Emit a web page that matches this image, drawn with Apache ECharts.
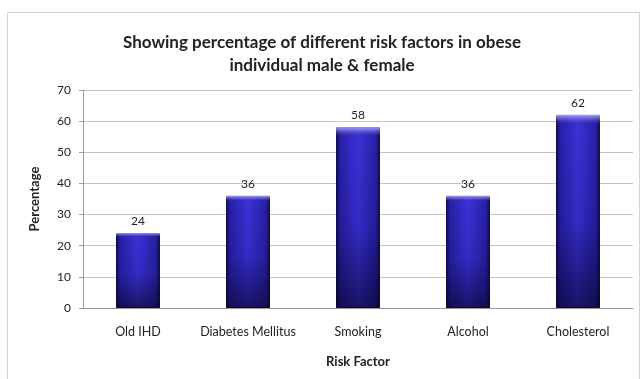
<!DOCTYPE html>
<html>
<head>
<meta charset="utf-8">
<script src="https://cdn.jsdelivr.net/npm/echarts@6/dist/echarts.min.js"></script>
<style>
  html, body { margin: 0; padding: 0; background: #ffffff; }
  #chart { width: 644px; height: 379px; }
</style>
</head>
<body>
<div id="chart"></div>
<script>
// Risk factors and their percentages
const categories = ['Old IHD', 'Diabetes Mellitus', 'Smoking', 'Alcohol', 'Cholesterol'];
const percentages = [24, 36, 58, 36, 62];
const yTicks = [0, 10, 20, 30, 40, 50, 60, 70];

const FONT = 'Lato, "Open Sans", sans-serif';

const chart = echarts.init(document.getElementById('chart'));

// Cylinder-like fill: dark edges, brighter middle
const barFill = new echarts.graphic.LinearGradient(0, 0, 1, 0, [
  { offset: 0, color: '#120d55' },
  { offset: 0.1, color: '#2820a8' },
  { offset: 0.5, color: '#3a31da' },
  { offset: 0.9, color: '#2820a8' },
  { offset: 1, color: '#120d55' }
]);

// Shading laid over the fill: pale cap at the top, darkening toward the base
const barShade = new echarts.graphic.LinearGradient(0, 0, 0, 1, [
  { offset: 0, color: 'rgba(190,185,255,0.85)' },
  { offset: 0.025, color: 'rgba(150,140,255,0.35)' },
  { offset: 0.06, color: 'rgba(0,0,0,0)' },
  { offset: 0.55, color: 'rgba(5,3,40,0.12)' },
  { offset: 1, color: 'rgba(5,3,30,0.62)' }
]);

chart.setOption({
  animation: false,
  backgroundColor: '#ffffff',
  title: {
    text: 'Showing percentage of different risk factors in obese\nindividual male & female',
    left: 'center',
    top: 26,
    textStyle: {
      fontFamily: FONT,
      fontSize: 17,
      fontWeight: 'bold',
      color: '#222',
      lineHeight: 23
    }
  },
  graphic: [
    {
      type: 'rect',
      shape: { x: 7.5, y: 12.5, width: 632, height: 370 },
      style: { fill: 'none', stroke: '#d4d4d4', lineWidth: 1 },
      silent: true
    }
  ],
  grid: { left: 83, right: 11, top: 90, bottom: 71 },
  xAxis: {
    type: 'category',
    data: categories,
    name: 'Risk Factor',
    nameLocation: 'middle',
    nameGap: 47,
    nameTextStyle: { fontFamily: FONT, fontSize: 13, fontWeight: 'bold', color: '#222' },
    axisLine: { lineStyle: { color: '#9a9a9a' } },
    axisTick: { show: false },
    axisLabel: { interval: 0, fontFamily: FONT, fontSize: 12.5, color: '#222', margin: 17 }
  },
  yAxis: {
    type: 'value',
    min: yTicks[0],
    max: yTicks[yTicks.length - 1],
    interval: 10,
    name: 'Percentage',
    nameLocation: 'middle',
    nameGap: 42,
    nameTextStyle: { fontFamily: FONT, fontSize: 13, fontWeight: 'bold', color: '#222' },
    axisLine: { show: true, lineStyle: { color: '#9a9a9a' } },
    axisTick: { show: true, length: 4, lineStyle: { color: '#9a9a9a' } },
    axisLabel: { fontFamily: FONT, fontSize: 12, color: '#222', margin: 12 },
    splitLine: { lineStyle: { color: '#c4c4c4' } }
  },
  series: [
    {
      type: 'bar',
      data: percentages,
      barWidth: '40%',
      barGap: '-100%',
      itemStyle: {
        color: barFill,
        borderColor: '#120e48',
        borderWidth: 1
      },
      label: {
        show: true,
        position: 'top',
        distance: 6,
        fontFamily: FONT,
        fontSize: 12,
        color: '#222'
      }
    },
    {
      type: 'bar',
      data: percentages,
      barWidth: '40%',
      barGap: '-100%',
      silent: true,
      itemStyle: { color: barShade, borderWidth: 0 },
      label: { show: false }
    }
  ]
});
</script>
</body>
</html>
